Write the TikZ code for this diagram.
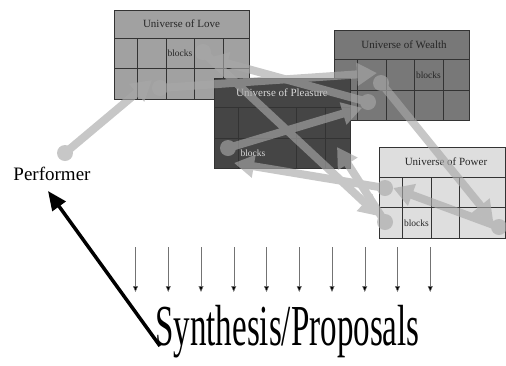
\documentclass[tikz,border=0pt]{standalone}
\usepackage{fontspec}
\setmainfont{Liberation Serif}
\usetikzlibrary{arrows.meta,positioning}

\definecolor{loveGray}{gray}{0.63}
\definecolor{wealthGray}{gray}{0.47}
\definecolor{pleasureGray}{gray}{0.27}
\definecolor{powerGray}{gray}{0.87}
\definecolor{flowGray}{gray}{0.66}

\begin{document}
\begin{tikzpicture}[
    x=1pt, y=-1pt,
    universe/.style={draw=black!80, line width=0.7pt, anchor=north west,
        inner sep=0pt},
    grid/.style={draw=black!80, line width=0.7pt},
    heading/.style={font=\fontsize{11}{13}\selectfont},
    cell/.style={font=\fontsize{9.5}{11}\selectfont},
    flow/.style={line width=8pt, draw=flowGray,
        -{Triangle[length=20pt, width=22pt]}},
    spot/.style={circle, fill=flowGray, minimum size=16pt, inner sep=0pt},
    cue/.style={draw=black!55, line width=0.5pt,
        -{Triangle[length=6pt, width=5pt, fill=black]}},
    push/.style={draw=black, line width=3.5pt,
        -{Triangle[length=19pt, width=16pt]}}
]
    \useasboundingbox (0,0) rectangle (506,365);

    % universes
    \node[universe, fill=loveGray, minimum width=135pt, minimum height=89pt]
        (love) at (114,10) {};
    \draw[grid] (114,38) -- (249,38) (114,68) -- (249,68);
    \foreach \x in {137,166,194,223} \draw[grid] (\x,38) -- (\x,99);
    \node[heading, text=black!85] (loveTitle) at (181.5,24) {Universe of Love};
    \node[cell, text=black!85] (loveBlocks) at (180,53) {blocks};

    \node[universe, fill=wealthGray, minimum width=135pt, minimum height=90pt]
        (wealth) at (334,30) {};
    \draw[grid] (334,59) -- (469,59) (334,90.5) -- (469,90.5);
    \foreach \x in {357,386,414,443} \draw[grid] (\x,59) -- (\x,120);
    \node[heading, text=black!85] (wealthTitle) at (404,45) {Universe of Wealth};
    \node[cell, text=black!85] (wealthBlocks) at (428.5,75) {blocks};

    \node[universe, fill=pleasureGray, minimum width=136pt, minimum height=90pt]
        (pleasure) at (214,78) {};
    \draw[grid] (214,107.5) -- (350,107.5) (214,138) -- (350,138);
    \foreach \x in {238.5,296,325} \draw[grid] (\x,107.5) -- (\x,168);
    \node[heading, text=white!85!black] (pleasureTitle) at (282,93) {Universe of Pleasure};
    \node[cell, text=white!85!black] (pleasureBlocks) at (253,153) {blocks};

    \node[universe, fill=powerGray, minimum width=126pt, minimum height=91pt]
        (power) at (379,147) {};
    \draw[grid] (379,177) -- (505,177) (379,207.5) -- (505,207.5);
    \foreach \x in {402.5,431,459.5} \draw[grid] (\x,177) -- (\x,238);
    \node[heading, text=black!85] (powerTitle) at (446,162) {Universe of Power};
    \node[cell, text=black!85] (powerBlocks) at (416.5,223) {blocks};

    % paths of the performer
    \begin{scope}[transparency group, opacity=0.64]
        \node[spot] (perfDot) at (65,153) {};
        \node[spot] (loveDotA) at (160,88) {};
        \node[spot] (loveDotB) at (203,52) {};
        \node[spot] (wealthDotA) at (381,83) {};
        \node[spot] (wealthDotB) at (368,102) {};
        \node[spot] (pleasureDot) at (228,148) {};
        \node[spot] (powerDotA) at (385,188) {};
        \node[spot] (powerDotB) at (385,222) {};
        \node[spot] (powerDotC) at (499,227) {};

        \draw[flow] (perfDot.center) -- (152,80);
        \draw[flow] (loveDotA.center) -- (377,73);
        \draw[flow] (wealthDotB.center) -- (208,58);
        \draw[flow] (loveDotB.center) -- (powerDotB.north west);
        \draw[flow] (pleasureDot.center) -- (wealthDotB.south west);
        \draw[flow] (wealthDotA.center) -- (powerDotC.north west);
        \draw[flow] (powerDotC.center) -- (powerDotA.east);
        \draw[flow] (powerDotA.center) -- (234,163);
        \draw[flow] (powerDotB.center) -- (337,147);
    \end{scope}

    % performer and synthesis
    \node[font=\fontsize{19}{21}\selectfont, anchor=base] (performer) at (52,180)
        {Performer};
    \node[font=\fontsize{58}{60}\selectfont, anchor=base west, inner sep=0pt]
        (synthesis) at (155,345) {\scalebox{0.57}[1]{Synthesis/Proposals}};

    \foreach \i in {0,...,9}
        \draw[cue] (135.5+32.75*\i,247) -- ++(0,45);

    \coordinate (synthFoot) at (160,346);
    \coordinate (perfFoot) at (48,191);
    \draw[push] (synthFoot) -- (perfFoot);
\end{tikzpicture}
\end{document}
